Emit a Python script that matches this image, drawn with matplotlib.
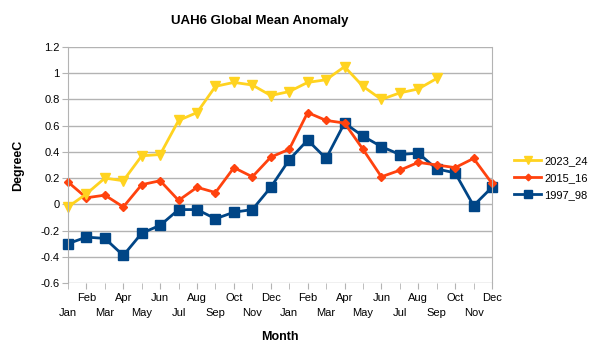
import matplotlib
matplotlib.use('Agg')
import matplotlib.pyplot as plt
import numpy as np

plt.rcParams['font.family'] = ['Liberation Sans', 'DejaVu Sans']

# Data ----------------------------------------------------------------------
months = ['Jan', 'Feb', 'Mar', 'Apr', 'May', 'Jun',
          'Jul', 'Aug', 'Sep', 'Oct', 'Nov', 'Dec'] * 2

uah_1997_98 = [-0.30, -0.25, -0.26, -0.39, -0.22, -0.16, -0.04, -0.04, -0.11, -0.06, -0.04, 0.13,
               0.34, 0.49, 0.35, 0.62, 0.52, 0.44, 0.38, 0.39, 0.27, 0.24, -0.01, 0.13]
uah_2015_16 = [0.17, 0.05, 0.07, -0.02, 0.15, 0.18, 0.03, 0.13, 0.09, 0.28, 0.21, 0.36,
               0.42, 0.70, 0.64, 0.62, 0.42, 0.21, 0.26, 0.32, 0.30, 0.28, 0.35, 0.16]
uah_2023_24 = [-0.02, 0.08, 0.20, 0.18, 0.37, 0.38, 0.64, 0.70, 0.90, 0.93, 0.91, 0.83,
               0.86, 0.93, 0.95, 1.05, 0.90, 0.80, 0.85, 0.88, 0.96]

c_blue = '#004586'
c_orange = '#ff420e'
c_yellow = '#ffd320'
c_grid = '#b3b3b3'

# Figure --------------------------------------------------------------------
fig = plt.figure(figsize=(5.91, 3.54), dpi=100)
ax = fig.add_axes([68 / 591, 1 - 283 / 354, 424 / 591, 236 / 354])

x = np.arange(len(months))
l1, = ax.plot(x, uah_1997_98, color=c_blue, lw=2, marker='s', ms=7,
              clip_on=False, label='1997_98')
l2, = ax.plot(x, uah_2015_16, color=c_orange, lw=2, marker='D', ms=4.5,
              clip_on=False, label='2015_16')
l3, = ax.plot(np.arange(len(uah_2023_24)), uah_2023_24, color=c_yellow, lw=2,
              marker='v', ms=7, clip_on=False, label='2023_24')

ax.set_xlim(0, 23)
ax.set_ylim(-0.6, 1.2)
yt = np.round(np.arange(-0.6, 1.21, 0.2), 1)
ax.set_yticks(yt)
ax.set_yticklabels(['0' if v == 0 else ('%g' % v) for v in yt])
ax.yaxis.grid(True, color=c_grid, lw=1)
ax.set_axisbelow(True)

# alternate month labels on two rows
ax.set_xticks(x[1::2])
ax.set_xticklabels(months[1::2])
ax.set_xticks(x[0::2], minor=True)
ax.set_xticklabels(months[0::2], minor=True)
ax.tick_params(axis='x', which='major', length=4, color=c_grid, pad=3, labelsize=8)
ax.tick_params(axis='x', which='minor', length=4, color=c_grid, pad=14, labelsize=8)
ax.tick_params(axis='y', length=4, color=c_grid, pad=2, labelsize=8)

for s in ['left', 'right']:
    ax.spines[s].set_color(c_grid)
for s in ['top', 'bottom']:
    ax.spines[s].set_visible(False)

fig.text(260 / 591, 1 - 21 / 354, 'UAH6 Global Mean Anomaly', fontsize=9.5,
         fontweight='bold', ha='center', va='center')
ax.set_ylabel('DegreeC', fontsize=9, fontweight='bold', labelpad=12)
ax.set_xlabel('Month', fontsize=9, fontweight='bold', labelpad=9)

fig.legend(handles=[l3, l2, l1], loc='center left', bbox_to_anchor=(510 / 591, 1 - 178 / 354),
           frameon=False, fontsize=8, handlelength=2.4, handletextpad=0.3,
           labelspacing=0.6, borderaxespad=0, markerscale=0.75)

fig.savefig('out.png', dpi=100)
